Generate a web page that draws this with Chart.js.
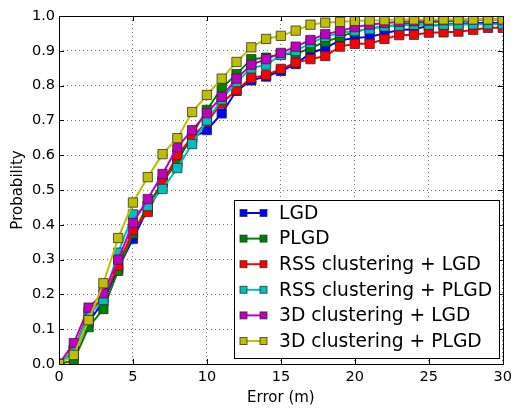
<!DOCTYPE html>
<html><head><meta charset="utf-8">
<script src="https://cdn.jsdelivr.net/npm/chart.js@4"></script>
<style>html,body{margin:0;padding:0;background:#fff}#w{width:517px;height:410px}</style>
</head><body><div id="w"><canvas id="c"></canvas></div>
<script>
const errors = [0,1,2,3,4,5,6,7,8,9,10,11,12,13,14,15,16,17,18,19,20,21,22,23,24,25,26,27,28,29,30];
const seriesNames = ["LGD","PLGD","RSS clustering + LGD","RSS clustering + PLGD","3D clustering + LGD","3D clustering + PLGD"];
const lgd = [0,0.03,0.12,0.18,0.275,0.36,0.445,0.525,0.59,0.65,0.672,0.72,0.785,0.815,0.826,0.842,0.862,0.893,0.908,0.93,0.937,0.94,0.95,0.96,0.962,0.972,0.975,0.978,0.98,0.98,0.98];
const plgd = [0,0.01,0.106,0.158,0.268,0.375,0.455,0.523,0.58,0.66,0.73,0.793,0.833,0.876,0.88,0.89,0.891,0.908,0.926,0.94,0.955,0.965,0.97,0.975,0.98,0.982,0.985,0.985,0.988,0.99,0.99];
const rssLgd = [0,0.04,0.15,0.19,0.283,0.385,0.437,0.52,0.60,0.652,0.695,0.75,0.787,0.822,0.83,0.848,0.866,0.876,0.885,0.912,0.92,0.92,0.934,0.945,0.946,0.952,0.953,0.955,0.96,0.966,0.966];
const rssPlgd = [0,0.04,0.14,0.184,0.32,0.43,0.454,0.503,0.563,0.632,0.70,0.76,0.81,0.85,0.86,0.888,0.9,0.922,0.94,0.952,0.957,0.962,0.97,0.972,0.975,0.975,0.975,0.975,0.976,0.976,0.976];
const d3Lgd = [0,0.06,0.162,0.203,0.30,0.405,0.474,0.546,0.623,0.672,0.721,0.768,0.82,0.86,0.876,0.894,0.912,0.931,0.948,0.957,0.968,0.975,0.98,0.983,0.985,0.987,0.988,0.99,0.99,0.99,0.99];
const d3Plgd = [0,0.026,0.126,0.232,0.362,0.464,0.537,0.603,0.649,0.724,0.773,0.82,0.868,0.91,0.934,0.943,0.958,0.975,0.981,0.983,0.986,0.987,0.988,0.99,0.99,0.99,0.99,0.99,0.99,0.99,0.99];
const xTicks = [0,5,10,15,20,25,30];
const yTicks = [0,0.1,0.2,0.3,0.4,0.5,0.6,0.7,0.8,0.9,1.0];

const seriesValues = [lgd, plgd, rssLgd, rssPlgd, d3Lgd, d3Plgd];
const colors = ["#0000ff","#008000","#ff0000","#00bfbf","#bf00bf","#bfbf00"];
const FONT = "'DejaVu Sans', sans-serif";

const datasets = seriesValues.map((vals, i) => ({
  label: seriesNames[i],
  data: errors.map((e, j) => ({x: e, y: vals[j]})),
  borderColor: colors[i],
  backgroundColor: colors[i],
  pointBackgroundColor: colors[i],
  pointBorderColor: "rgba(40,40,40,0.75)",
  pointBorderWidth: 1,
  pointStyle: "rect",
  pointRadius: 6.6,
  pointHoverRadius: 6.6,
  borderWidth: 2,
  order: seriesValues.length - i,
  tension: 0
}));

const overlay = {
  id: "overlay",
  afterDraw(chart) {
    const ctx = chart.ctx, a = chart.chartArea;
    const xs = chart.scales.x, ys = chart.scales.y;
    ctx.save();
    ctx.strokeStyle = "#000"; ctx.lineWidth = 1;
    xTicks.forEach(v => {
      const px = Math.round(xs.getPixelForValue(v)) + 0.5;
      ctx.beginPath(); ctx.moveTo(px, a.bottom); ctx.lineTo(px, a.bottom - 5);
      ctx.moveTo(px, a.top); ctx.lineTo(px, a.top + 5); ctx.stroke();
    });
    yTicks.forEach(v => {
      const py = Math.round(ys.getPixelForValue(v)) + 0.5;
      ctx.beginPath(); ctx.moveTo(a.left, py); ctx.lineTo(a.left + 5, py);
      ctx.moveTo(a.right, py); ctx.lineTo(a.right - 5, py); ctx.stroke();
    });
    ctx.strokeRect(Math.round(a.left)+0.5, Math.round(a.top)+0.5, Math.round(a.right-a.left), Math.round(a.bottom-a.top));
    ctx.fillStyle = "#000";
    ctx.font = "15px " + FONT;
    ctx.textAlign = "center"; ctx.textBaseline = "middle";
    ctx.fillText("Error (m)", (a.left + a.right) / 2, 398);
    ctx.save();
    ctx.translate(18, (a.top + a.bottom) / 2);
    ctx.rotate(-Math.PI / 2);
    ctx.fillText("Probability", 0, 0);
    ctx.restore();
    const lx = 234.5, ly = 200.5, lw = 265, lh = 158;
    ctx.fillStyle = "#fff";
    ctx.fillRect(lx, ly, lw, lh);
    ctx.strokeStyle = "#000"; ctx.lineWidth = 1;
    ctx.strokeRect(lx, ly, lw, lh);
    ctx.font = "18.7px " + FONT;
    ctx.textAlign = "left"; ctx.textBaseline = "middle";
    seriesNames.forEach((name, i) => {
      const cy = 213 + i * 25.6;
      ctx.strokeStyle = colors[i]; ctx.lineWidth = 2;
      ctx.beginPath(); ctx.moveTo(243.5, cy); ctx.lineTo(263.5, cy); ctx.stroke();
      [243.5, 263.5].forEach(mx => {
        ctx.fillStyle = colors[i];
        ctx.fillRect(mx - 3.5, cy - 3.5, 7, 7);
        ctx.strokeStyle = "rgba(40,40,40,0.75)"; ctx.lineWidth = 1;
        ctx.strokeRect(mx - 3.5, cy - 3.5, 7, 7);
      });
      ctx.fillStyle = "#000";
      ctx.fillText(name, 279, cy + 1);
    });
    ctx.restore();
  }
};

new Chart(document.getElementById("c"), {
  type: "line",
  data: { datasets },
  options: {
    responsive: true, maintainAspectRatio: false, animation: false,
    layout: { padding: { top: 16, right: 9, left: 0, bottom: 0 } },
    plugins: { legend: { display: false }, tooltip: { enabled: false } },
    scales: {
      x: {
        type: "linear", min: 0, max: 30,
        afterBuildTicks: s => { s.ticks = xTicks.map(v => ({value: v})); },
        afterFit: s => { s.height = 46; },
        grid: { color: "rgba(0,0,0,0.55)", lineWidth: 1, drawTicks: false },
        border: { display: false, dash: [1,3] },
        ticks: { color: "#000", font: { family: FONT, size: 14.5 }, padding: 5, maxRotation: 0,
                 callback: v => String(v) }
      },
      y: {
        type: "linear", min: 0, max: 1,
        afterBuildTicks: s => { s.ticks = yTicks.map(v => ({value: v})); },
        afterFit: s => { s.width = 59; },
        grid: { color: "rgba(0,0,0,0.55)", lineWidth: 1, drawTicks: false },
        border: { display: false, dash: [1,3] },
        ticks: { color: "#000", font: { family: FONT, size: 14.5 }, padding: 4,
                 callback: v => Number(v).toFixed(1) }
      }
    }
  },
  plugins: [overlay]
});
</script>
</body></html>
